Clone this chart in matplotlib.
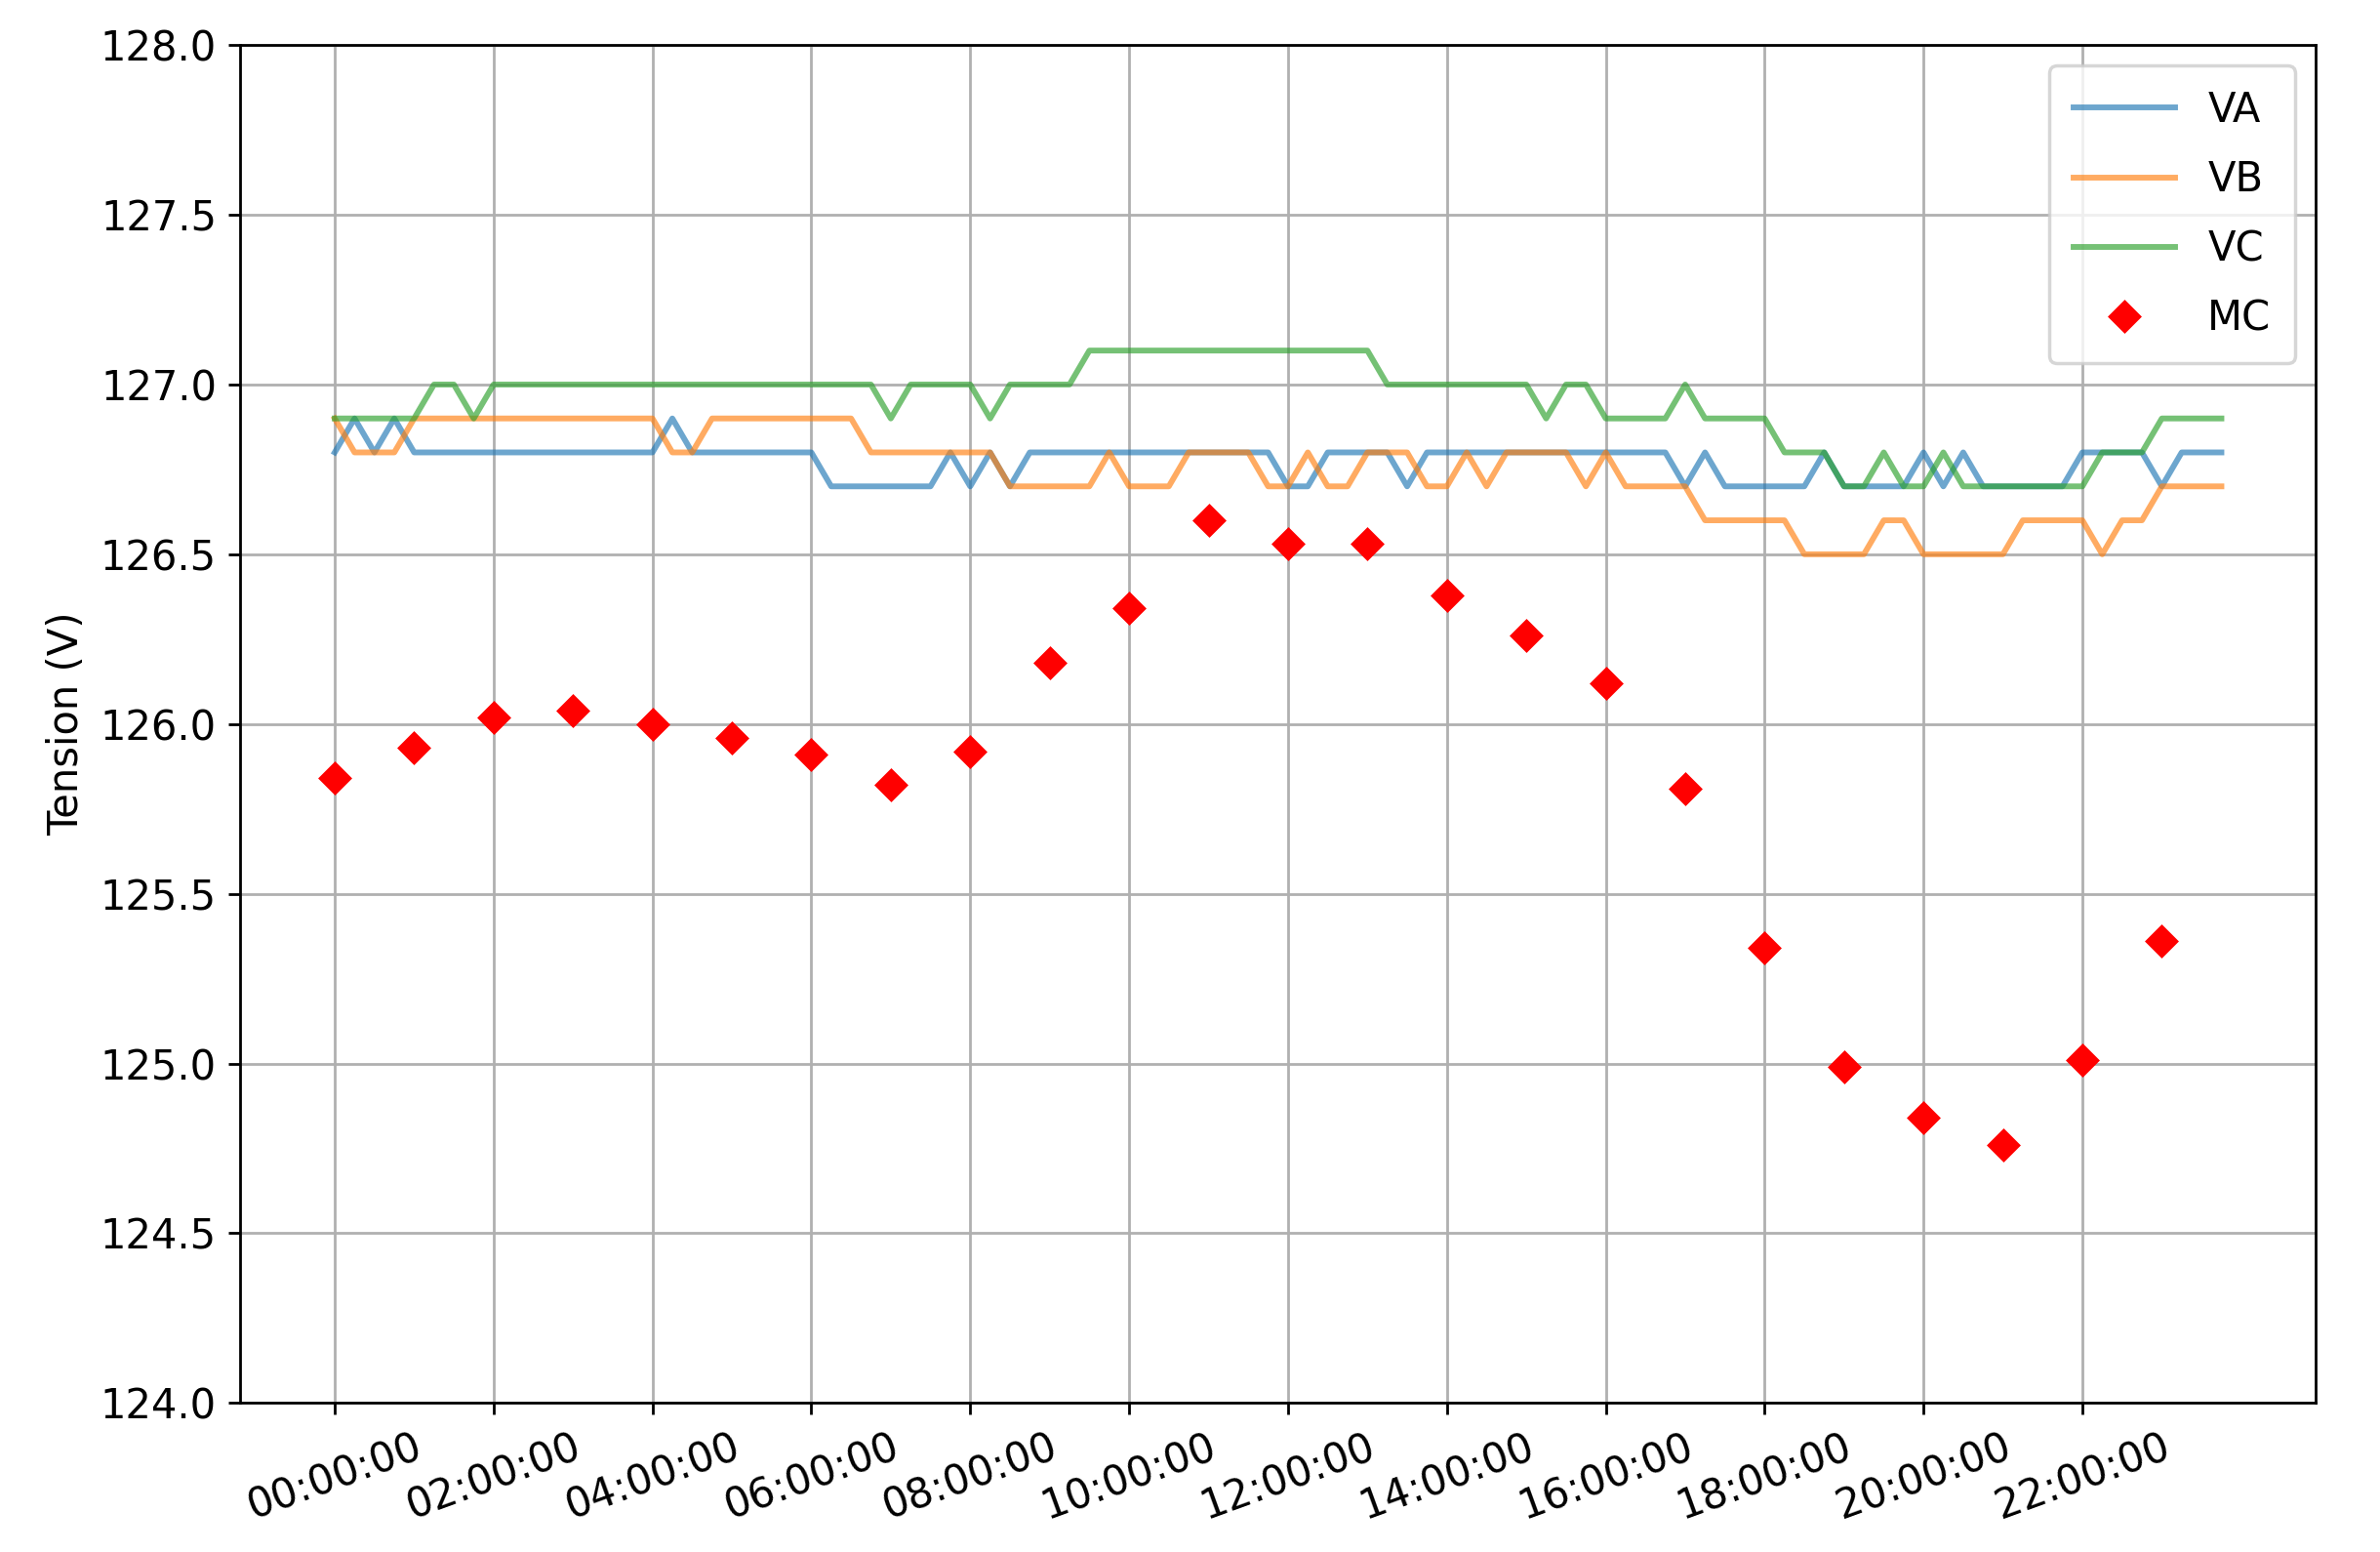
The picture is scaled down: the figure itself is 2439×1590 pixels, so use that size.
import numpy as np
import matplotlib
matplotlib.use("Agg")
import matplotlib.pyplot as plt

plt.rcParams['font.size'] = 12

# 15-minute samples, 00:00 .. 23:45
times = [f"{h:02d}:{m:02d}:00" for h in range(24) for m in (0, 15, 30, 45)]

va = [126.8, 126.9, 126.8, 126.9, 126.8, 126.8, 126.8, 126.8, 126.8, 126.8, 126.8, 126.8,
      126.8, 126.8, 126.8, 126.8, 126.8, 126.9, 126.8, 126.8, 126.8, 126.8, 126.8, 126.8,
      126.8, 126.7, 126.7, 126.7, 126.7, 126.7, 126.7, 126.8, 126.7, 126.8, 126.7, 126.8,
      126.8, 126.8, 126.8, 126.8, 126.8, 126.8, 126.8, 126.8, 126.8, 126.8, 126.8, 126.8,
      126.7, 126.7, 126.8, 126.8, 126.8, 126.8, 126.7, 126.8, 126.8, 126.8, 126.8, 126.8,
      126.8, 126.8, 126.8, 126.8, 126.8, 126.8, 126.8, 126.8, 126.7, 126.8, 126.7, 126.7,
      126.7, 126.7, 126.7, 126.8, 126.7, 126.7, 126.7, 126.7, 126.8, 126.7, 126.8, 126.7,
      126.7, 126.7, 126.7, 126.7, 126.8, 126.8, 126.8, 126.8, 126.7, 126.8, 126.8, 126.8]

vb = [126.9, 126.8, 126.8, 126.8, 126.9, 126.9, 126.9, 126.9, 126.9, 126.9, 126.9, 126.9,
      126.9, 126.9, 126.9, 126.9, 126.9, 126.8, 126.8, 126.9, 126.9, 126.9, 126.9, 126.9,
      126.9, 126.9, 126.9, 126.8, 126.8, 126.8, 126.8, 126.8, 126.8, 126.8, 126.7, 126.7,
      126.7, 126.7, 126.7, 126.8, 126.7, 126.7, 126.7, 126.8, 126.8, 126.8, 126.8, 126.7,
      126.7, 126.8, 126.7, 126.7, 126.8, 126.8, 126.8, 126.7, 126.7, 126.8, 126.7, 126.8,
      126.8, 126.8, 126.8, 126.7, 126.8, 126.7, 126.7, 126.7, 126.7, 126.6, 126.6, 126.6,
      126.6, 126.6, 126.5, 126.5, 126.5, 126.5, 126.6, 126.6, 126.5, 126.5, 126.5, 126.5,
      126.5, 126.6, 126.6, 126.6, 126.6, 126.5, 126.6, 126.6, 126.7, 126.7, 126.7, 126.7]

vc = [126.9, 126.9, 126.9, 126.9, 126.9, 127.0, 127.0, 126.9, 127.0, 127.0, 127.0, 127.0,
      127.0, 127.0, 127.0, 127.0, 127.0, 127.0, 127.0, 127.0, 127.0, 127.0, 127.0, 127.0,
      127.0, 127.0, 127.0, 127.0, 126.9, 127.0, 127.0, 127.0, 127.0, 126.9, 127.0, 127.0,
      127.0, 127.0, 127.1, 127.1, 127.1, 127.1, 127.1, 127.1, 127.1, 127.1, 127.1, 127.1,
      127.1, 127.1, 127.1, 127.1, 127.1, 127.0, 127.0, 127.0, 127.0, 127.0, 127.0, 127.0,
      127.0, 126.9, 127.0, 127.0, 126.9, 126.9, 126.9, 126.9, 127.0, 126.9, 126.9, 126.9,
      126.9, 126.8, 126.8, 126.8, 126.7, 126.7, 126.8, 126.7, 126.7, 126.8, 126.7, 126.7,
      126.7, 126.7, 126.7, 126.7, 126.7, 126.8, 126.8, 126.8, 126.9, 126.9, 126.9, 126.9]

# hourly measurements
mc_idx = list(range(0, 96, 4))
mc = [125.84, 125.93, 126.02, 126.04, 126.00, 125.96, 125.91, 125.82, 125.92, 126.18,
      126.34, 126.60, 126.53, 126.53, 126.38, 126.26, 126.12, 125.81, 125.34, 124.99,
      124.84, 124.76, 125.01, 125.36]

fig, ax = plt.subplots(figsize=(9.756, 6.36), dpi=250)
x = np.arange(len(times))
ax.plot(x, va, label="VA", alpha=0.65, lw=1.7)
ax.plot(x, vb, label="VB", alpha=0.65, lw=1.7)
ax.plot(x, vc, label="VC", alpha=0.65, lw=1.7)
ax.plot(mc_idx, mc, "D", color="red", markersize=6, label="MC", linestyle="none")

ax.set_xticks(x[::8])
ax.set_xticklabels(times[::8], rotation=20)
ax.set_ylim(124.0, 128.0)
ax.set_ylabel("Tension (V)")
ax.grid(True)
ax.legend(loc="upper right", borderpad=0.6, labelspacing=0.7, handlelength=2.5)

fig.subplots_adjust(left=0.101, right=0.973, top=0.971, bottom=0.096)
fig.savefig("out.png")
